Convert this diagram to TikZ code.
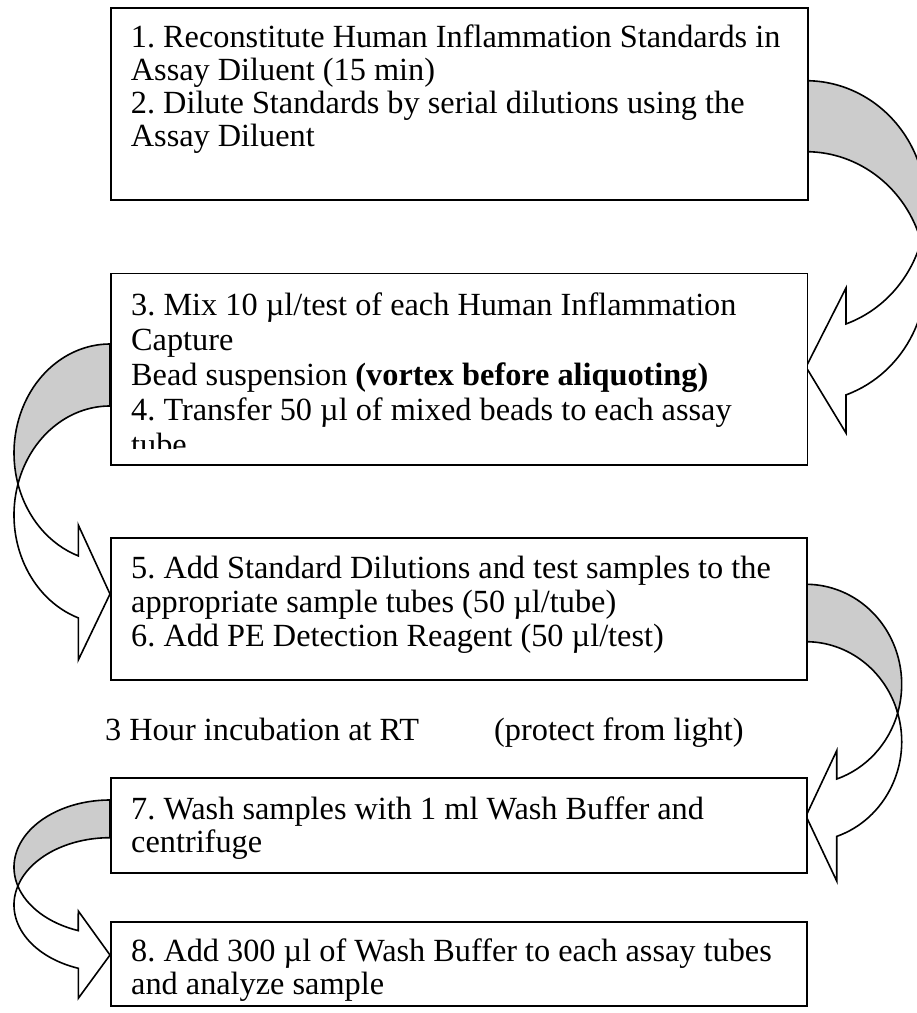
\documentclass[tikz,border=0pt]{standalone}
\usepackage{fontspec}
\setmainfont{Liberation Serif}
\definecolor{bandgray}{RGB}{204,204,204}
\begin{document}
\frenchspacing
\begin{tikzpicture}[x=1pt,y=-1pt,
  box/.style={draw=black, fill=white, line width=1.8pt, inner sep=0pt, anchor=north west},
  band/.style={draw=black, fill=bandgray, line width=1.6pt, line join=round},
  front/.style={draw=black, fill=white, line width=1.6pt, line join=miter},
  txt/.style={anchor=base west, inner sep=0pt, font=\fontsize{32.3}{33}\selectfont}]
\useasboundingbox (0,0) rectangle (917,1013);
\clip (0,0) rectangle (917,1013);

% ---- curved arrow 1 (box1 -> box2, right side)
\coordinate (a1top) at (806,80.7);
\coordinate (a1x) at (921.08,241.39);
\draw[band] (a1top) arc[start angle=-90, end angle=16.47, x radius=120, y radius=125.2]
  arc[start angle=-16.47, end angle=-90, x radius=120, y radius=125.2] -- cycle;
\draw[front] (a1x) arc[start angle=16.47, end angle=70.53, x radius=120, y radius=125.2]
  -- (846,288) -- (806,367) -- (846,433) -- (846,394.9)
  arc[start angle=70.53, end angle=-16.47, x radius=120, y radius=125.2] -- cycle;

% ---- curved arrow 2 (box2 -> box3, left side)
\coordinate (a2top) at (110,344);
\coordinate (a2x) at (17.97,484);
\draw[band] (a2top) arc[start angle=270, end angle=163.48, x radius=96, y radius=109]
  arc[start angle=196.52, end angle=270, x radius=96, y radius=109] -- cycle;
\draw[front] (a2x) arc[start angle=163.48, end angle=109.28, x radius=96, y radius=109]
  -- (78.3,525) -- (110,594) -- (78.3,660) -- (78.3,617.9)
  arc[start angle=109.28, end angle=196.52, x radius=96, y radius=109] -- cycle;

% ---- curved arrow 3 (box3 -> box4, right side)
\coordinate (a3top) at (806,584.3);
\coordinate (a3x) at (897.68,713);
\draw[band] (a3top) arc[start angle=-90, end angle=16.68, x radius=95.7, y radius=100]
  arc[start angle=-16.68, end angle=-90, x radius=95.7, y radius=100] -- cycle;
\draw[front] (a3x) arc[start angle=16.68, end angle=71.29, x radius=95.7, y radius=100]
  -- (836.7,750.7) -- (806,816) -- (836.7,881) -- (836.7,836.4)
  arc[start angle=71.29, end angle=-16.68, x radius=95.7, y radius=100] -- cycle;

% ---- curved arrow 4 (box4 -> box5, left side)
\coordinate (a4top) at (110,800);
\coordinate (a4x) at (17.85,886.05);
\draw[band] (a4top) arc[start angle=270, end angle=163.71, x radius=96, y radius=67.2]
  arc[start angle=196.29, end angle=270, x radius=96, y radius=67.2] -- cycle;
\draw[front] (a4x) arc[start angle=163.71, end angle=109.28, x radius=96, y radius=67.2]
  -- (78.3,911) -- (110,955) -- (78.3,998.3) -- (78.3,968.3)
  arc[start angle=109.28, end angle=196.29, x radius=96, y radius=67.2] -- cycle;

% ---- boxes
\node[box, minimum width=696.7pt, minimum height=191.7pt] (box1) at (110,7.3) {};
\node[box, minimum width=696.5pt, minimum height=191.5pt] (box2) at (110,272.5) {};
\node[box, minimum width=696.3pt, minimum height=142pt] (box3) at (110,537) {};
\node[box, minimum width=696.3pt, minimum height=95.6pt] (box4) at (110,776.7) {};
\node[box, minimum width=696.3pt, minimum height=84.3pt] (box5) at (110,920.7) {};

% ---- texts
\node[txt] (t11) at (130.7,47.7) {1. Reconstitute Human Inflammation Standards in};
\node[txt] (t12) at (130.7,80.7) {Assay Diluent (15 min)};
\node[txt] (t13) at (130.7,113.3) {2. Dilute Standards by serial dilutions using the};
\node[txt] (t14) at (130.7,146.7) {Assay Diluent};

\begin{scope}
\clip (111,274) rectangle (805,448);
\node[txt] (t21) at (131,315) {3. Mix 10 µl/test of each Human Inflammation};
\node[txt] (t22) at (131,350) {Capture};
\node[txt] (t23) at (131,385) {Bead suspension \textbf{(vortex before aliquoting)}};
\node[txt] (t24) at (131,420) {4. Transfer 50 µl of mixed beads to each assay};
\node[txt] (t25) at (131,455) {tube};
\end{scope}

\node[txt] (t31) at (131,578) {5. Add Standard Dilutions and test samples to the};
\node[txt] (t32) at (131,612) {appropriate sample tubes (50 µl/tube)};
\node[txt] (t33) at (131,646) {6. Add PE Detection Reagent (50 µl/test)};

\node[txt] (inc) at (105,740) {3 Hour incubation at RT};
\node[txt] (prot) at (494,740) {(protect from light)};

\node[txt] (t41) at (131,819) {7. Wash samples with 1 ml Wash Buffer and};
\node[txt] (t42) at (131,852) {centrifuge};

\node[txt] (t51) at (131,961) {8. Add 300 µl of Wash Buffer to each assay tubes};
\node[txt] (t52) at (131,994) {and analyze sample};
\end{tikzpicture}
\end{document}
